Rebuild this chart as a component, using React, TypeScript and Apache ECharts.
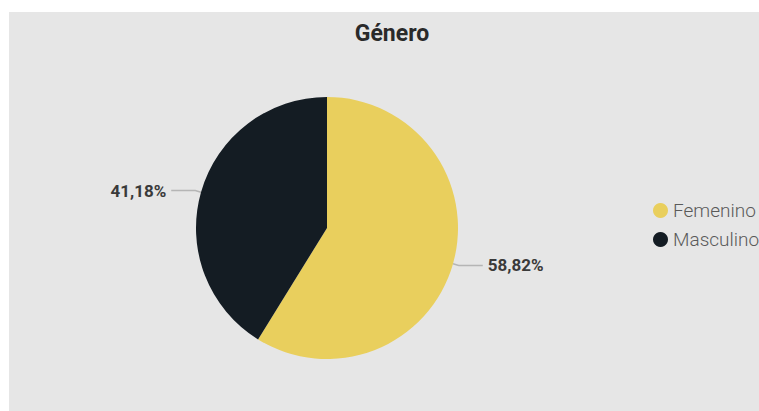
import React, { useEffect, useRef } from "react";
import * as echarts from "echarts";

const titleText = "Género";
const categories = ["Femenino", "Masculino"];
const values = [58.82, 41.18];
const colors = ["#E9CF5D", "#141C23"];

export default function App() {
  const ref = useRef<HTMLDivElement>(null);
  useEffect(() => {
    if (!ref.current) return;
    const chart = echarts.init(ref.current, undefined, { renderer: "svg" });
    chart.setOption({
      animation: false,
      backgroundColor: "#E6E6E6",
      title: {
        text: titleText,
        left: 378,
        top: 5,
        textAlign: "center",
        textStyle: {
          fontFamily: "Roboto",
          fontWeight: "bold",
          fontSize: 23,
          color: "#2a2a2a",
        },
      },
      legend: {
        orient: "vertical",
        left: 639,
        top: 184,
        itemWidth: 15,
        itemHeight: 15,
        itemGap: 10,
        icon: "circle",
        data: categories,
        textStyle: {
          fontFamily: "Roboto",
          fontWeight: 300,
          fontSize: 19,
          color: "#5a5a5a",
        },
      },
      series: [
        {
          type: "pie",
          center: [318, 216],
          radius: 131,
          startAngle: 90,
          clockwise: true,
          data: categories.map((c, i) => ({
            name: c,
            value: values[i],
            itemStyle: { color: colors[i] },
          })),
          label: {
            show: true,
            position: "outside",
            formatter: (p: any) => p.value.toFixed(2).replace(".", ",") + "%",
            fontFamily: "Roboto",
            fontWeight: "bold",
            fontSize: 17,
            color: "#3a3a3a",
          },
          labelLine: {
            show: true,
            length: 6,
            length2: 24,
            lineStyle: { color: "#b5b5b5", width: 1.5 },
          },
          emphasis: { disabled: true },
        },
      ],
    });
    return () => chart.dispose();
  }, []);
  return (
    <div
      style={{
        position: "fixed",
        left: 9,
        top: 12,
        width: 750,
        height: 399,
      }}
    >
      <div ref={ref} style={{ width: 750, height: 399 }} />
    </div>
  );
}
